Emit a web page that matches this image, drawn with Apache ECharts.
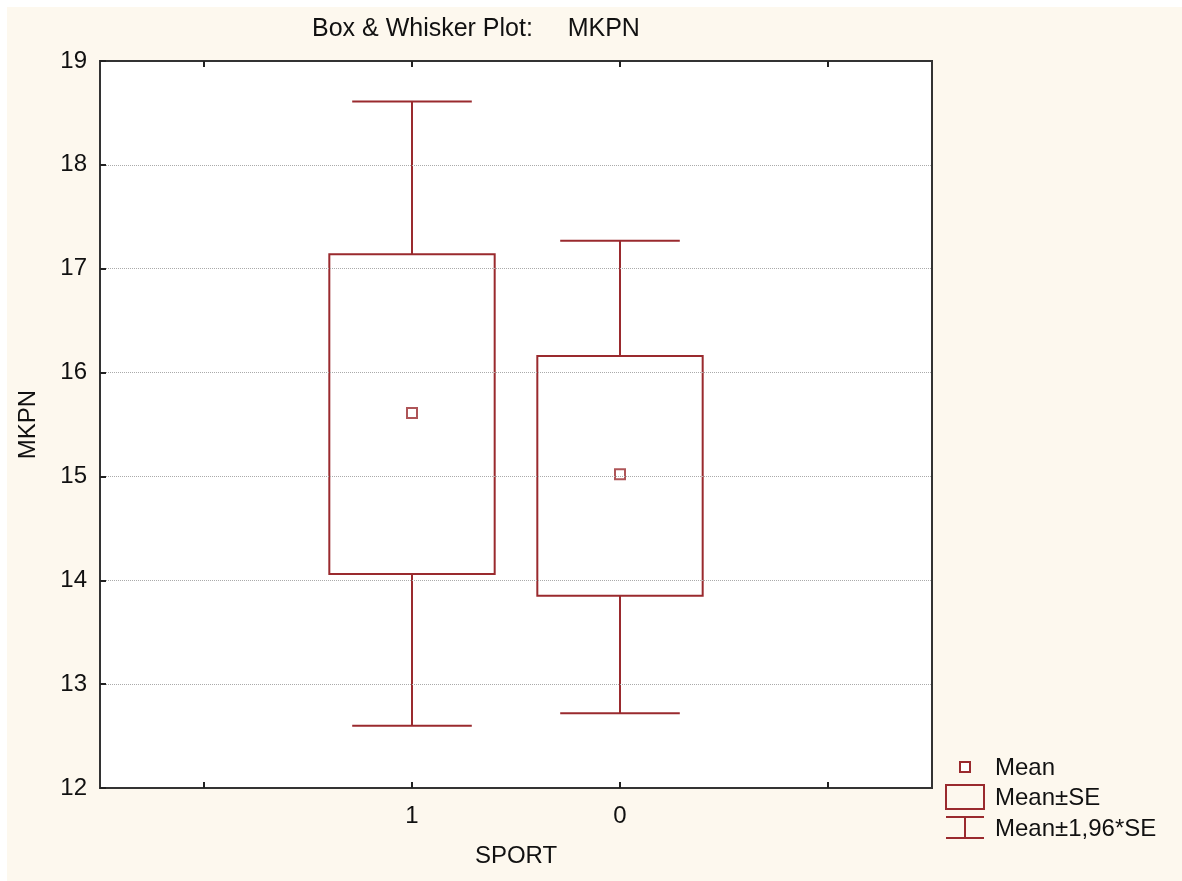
<!DOCTYPE html>
<html>
<head>
<meta charset="utf-8">
<script src="https://cdn.jsdelivr.net/npm/echarts@6/dist/echarts.min.js"></script>
<style>
html,body{margin:0;padding:0;background:#fdf8ee;}
#chart{width:1182px;height:881px;}
</style>
</head>
<body>
<div id="chart"></div>
<script>
// ---- data ----
const groups = ['1', '0'];
const means = [15.61, 15.02];
const seLow = [14.06, 13.85];
const seHigh = [17.14, 16.16];
const ciLow = [12.60, 12.72];
const ciHigh = [18.61, 17.27];
const yTicks = [12, 13, 14, 15, 16, 17, 18, 19];

const axisCats = [' '].concat(groups, ['  ']);
const RED = '#9a2a2e';
const FONT = 'Liberation Sans, Arial, sans-serif';

const boxData = groups.map((g, i) => [i + 1, seLow[i], seHigh[i]]);
const whiskerData = groups.map((g, i) => [i + 1, ciLow[i], ciHigh[i], seLow[i], seHigh[i]]);
const meanData = groups.map((g, i) => [i + 1, means[i]]);

const chart = echarts.init(document.getElementById('chart'));

function renderBox(params, api) {
  const x = api.value(0);
  const lo = api.coord([x, api.value(1)]);
  const hi = api.coord([x, api.value(2)]);
  const band = api.size([1, 0])[0];
  const w = band * 0.795;
  return {
    type: 'rect',
    shape: { x: lo[0] - w / 2, y: hi[1], width: w, height: lo[1] - hi[1] },
    style: { fill: '#fff', stroke: RED, lineWidth: 2 }
  };
}

function renderWhisker(params, api) {
  const x = api.value(0);
  const wLo = api.coord([x, api.value(1)]);
  const wHi = api.coord([x, api.value(2)]);
  const bLo = api.coord([x, api.value(3)]);
  const bHi = api.coord([x, api.value(4)]);
  const band = api.size([1, 0])[0];
  const c = band * 0.575 / 2;
  const cx = wLo[0];
  const st = { stroke: RED, lineWidth: 2 };
  return {
    type: 'group',
    children: [
      { type: 'line', shape: { x1: cx, y1: wHi[1], x2: cx, y2: bHi[1] }, style: st },
      { type: 'line', shape: { x1: cx - c, y1: wHi[1], x2: cx + c, y2: wHi[1] }, style: st },
      { type: 'line', shape: { x1: cx, y1: wLo[1], x2: cx, y2: bLo[1] }, style: st },
      { type: 'line', shape: { x1: cx - c, y1: wLo[1], x2: cx + c, y2: wLo[1] }, style: st }
    ]
  };
}

const legendText = { fill: '#111', font: '24px ' + FONT, textVerticalAlign: 'middle' };
const tickStyle = { color: '#222', width: 2 };

const option = {
  animation: false,
  backgroundColor: '#fdf8ee',
  title: {
    text: 'Box & Whisker Plot:     MKPN',
    left: 312,
    top: 17,
    padding: 0,
    textStyle: { fontFamily: FONT, fontSize: 25, fontWeight: 'normal', color: '#111' }
  },
  grid: {
    left: 100, top: 61, right: 250, bottom: 93, z: -1,
    show: true, backgroundColor: '#fff', borderColor: '#333', borderWidth: 2
  },
  xAxis: [{
    type: 'category',
    z: 5,
    data: axisCats,
    boundaryGap: true,
    name: 'SPORT',
    nameLocation: 'middle',
    nameGap: 56,
    nameTextStyle: { fontFamily: FONT, fontSize: 24, color: '#111' },
    axisLine: { lineStyle: { color: '#333', width: 2 } },
    axisTick: { show: true, alignWithLabel: true, inside: true, interval: 0, length: 6, lineStyle: tickStyle },
    axisLabel: { fontFamily: FONT, fontSize: 24, color: '#111', margin: 16, interval: 0 },
    splitLine: { show: false }
  }, {
    type: 'category',
    z: 5,
    data: axisCats,
    position: 'top',
    boundaryGap: true,
    axisLine: { lineStyle: { color: '#333', width: 2 } },
    axisTick: { show: true, alignWithLabel: true, inside: true, interval: 0, length: 6, lineStyle: tickStyle },
    axisLabel: { show: false, interval: 0 }
  }],
  yAxis: {
    type: 'value',
    z: 5,
    min: yTicks[0],
    max: yTicks[yTicks.length - 1],
    interval: 1,
    name: 'MKPN',
    nameLocation: 'middle',
    nameGap: 60,
    nameTextStyle: { fontFamily: FONT, fontSize: 24, color: '#111' },
    axisLine: { show: true, lineStyle: { color: '#333', width: 2 } },
    axisTick: { show: true, inside: true, length: 6, lineStyle: tickStyle },
    axisLabel: { fontFamily: FONT, fontSize: 24, color: '#111', margin: 13 },
    splitLine: { show: true, lineStyle: { type: 'dotted', color: '#aaaaaa', width: 1 } }
  },
  series: [
    {
      name: 'Mean±1,96*SE', type: 'custom', renderItem: renderWhisker,
      data: whiskerData, encode: { x: 0, y: [1, 2] }, z: 2
    },
    {
      name: 'Mean±SE', type: 'custom', renderItem: renderBox,
      data: boxData, encode: { x: 0, y: [1, 2] }, z: 3
    },
    {
      name: 'Mean', type: 'scatter', data: meanData,
      symbol: 'rect', symbolSize: 10,
      itemStyle: { color: '#fff', borderColor: RED, borderWidth: 2 }, z: 4
    }
  ],
  graphic: [
    { type: 'rect', left: 0, top: 0, shape: { width: 1182, height: 7 }, style: { fill: '#fff' }, z: -1 },
    { type: 'rect', left: 0, top: 0, shape: { width: 7, height: 881 }, style: { fill: '#fff' }, z: -1 },
    // legend icons
    { type: 'rect', shape: { x: 960, y: 762, width: 10, height: 10 }, style: { fill: '#fff', stroke: RED, lineWidth: 2 } },
    { type: 'rect', shape: { x: 946, y: 785, width: 38, height: 24 }, style: { fill: 'none', stroke: RED, lineWidth: 2 } },
    { type: 'line', shape: { x1: 946, y1: 817, x2: 984, y2: 817 }, style: { stroke: RED, lineWidth: 2 } },
    { type: 'line', shape: { x1: 965, y1: 817, x2: 965, y2: 838 }, style: { stroke: RED, lineWidth: 2 } },
    { type: 'line', shape: { x1: 946, y1: 838, x2: 984, y2: 838 }, style: { stroke: RED, lineWidth: 2 } },
    // legend labels
    { type: 'text', x: 995, y: 768, style: Object.assign({ text: 'Mean' }, legendText) },
    { type: 'text', x: 995, y: 798, style: Object.assign({ text: 'Mean±SE' }, legendText) },
    { type: 'text', x: 995, y: 829, style: Object.assign({ text: 'Mean±1,96*SE' }, legendText) }
  ]
};

chart.setOption(option);
</script>
</body>
</html>
